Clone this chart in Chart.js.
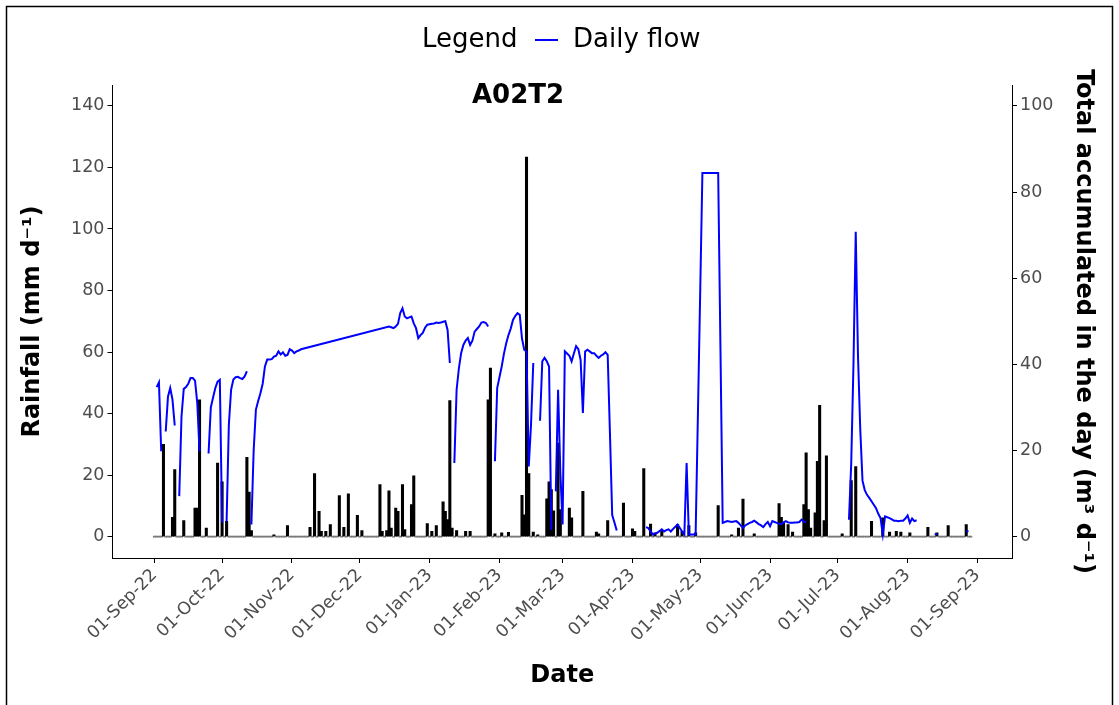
<!DOCTYPE html>
<html><head><meta charset="utf-8">
<script src="https://cdn.jsdelivr.net/npm/chart.js@4.4.1/dist/chart.umd.min.js"></script>
<style>html,body{margin:0;padding:0;background:#fff}canvas{display:block}</style>
</head><body>
<canvas id="c" width="1119" height="705"></canvas>
<script>
// ---- axis ticks (days since 01-Sep-2022) ----
const tickDays = [0,30,61,91,122,153,181,212,242,273,303,334,365];
const tickLabels = ["01-Sep-22","01-Oct-22","01-Nov-22","01-Dec-22","01-Jan-23","01-Feb-23","01-Mar-23","01-Apr-23","01-May-23","01-Jun-23","01-Jul-23","01-Aug-23","01-Sep-23"];
const rainTicks = [0,20,40,60,80,100,120,140];
const flowTicks = [0,20,40,60,80,100];

// ---- daily rainfall (mm/d); days with no entry are 0 ----
const rainFirstDay = 0, rainLastDay = 362;
const rainDays = [4,8,9,13,18,19,20,23,28,30,32,41,42,43,53,59,69,71,73,74,76,78,82,84,86,90,92,100,101,103,104,105,107,108,110,111,114,115,121,123,125,128,129,130,131,132,134,138,140,148,149,151,154,157,163,164,165,166,168,170,174,175,176,177,179,180,184,185,190,196,197,201,208,212,213,217,220,222,225,232,234,237,240,250,256,259,261,266,277,278,279,281,283,288,289,290,291,293,294,295,297,298,305,309,311,318,323,326,329,331,335,343,347,352,360];
const rainValues = [30,6.3,21.8,5.2,9.3,9.3,44.5,2.8,23.9,17.8,5,25.8,14.5,2,0.6,3.6,3,20.5,8.2,1.7,1.7,3.9,13.3,3,13.9,6.9,2,16.9,1.7,2,14.9,2.8,9.3,8.2,16.9,2.3,10.4,19.8,4.2,1.7,3.6,11.3,8.2,5.5,44.2,2.8,2,1.7,1.7,44.5,54.8,0.9,1.2,1.4,13.4,7.1,123.4,20.5,1.5,0.6,12.3,17.8,15.3,8.4,30.4,8.8,9.3,6.1,14.7,1.5,0.9,5.2,10.9,2.5,1.7,22.1,4.1,1.2,2,3.9,1.7,3.6,1.2,10.1,0.6,2.8,12.2,0.9,10.7,6.3,4.4,3.9,1.5,10.4,27.2,8.8,2.8,7.7,24.5,42.7,5.2,26.3,0.9,18.2,22.8,5,6.1,1.5,1.7,1.5,1.2,3,1.2,3.6,3.9];

// ---- daily flow (m3/d); null = no record ----
const flowDays = [1,2,3,4,5,6,7,8,9,10,11,12,13,14,15,16,17,18,19,20,21,24,25,26,27,28,29,30,31,32,33,34,35,36,37,38,39,40,41,42,
43,44,45,46,47,48,49,50,51,52,53,54,55,56,57,58,59,60,61,62,63,64,65,104,105,106,107,108,109,110,111,112,113,114,115,116,117,118,119,120,121,122,123,124,125,126,127,128,129,130,131,132,
133,134,135,136,137,138,139,140,141,142,143,144,145,146,147,148,149,
151,152,153,154,155,156,157,158,159,160,161,162,163,164,165,166,167,168,169,
171,172,173,174,175,176,177,
178,179,180,181,182,183,184,185,186,187,188,189,190,191,192,193,194,195,196,197,198,199,200,201,202,203,204,205,206,
218,219,220,221,222,223,224,225,226,227,228,229,230,231,232,233,234,235,236,237,238,239,240,241,242,243,244,245,246,247,248,249,250,251,
252,253,254,255,256,257,258,259,260,261,262,263,264,265,266,267,268,269,270,271,272,273,274,275,276,277,278,279,280,281,282,283,284,285,286,287,288,289,290,
308,309,310,311,312,313,314,315,316,317,318,319,320,321,322,323,324,325,326,327,328,329,330,331,332,333,334,335,336,337,338,339,
346,347,348,360,361];
const flowValues = [34.7,35.8,19.8,null,24.4,32.5,34.5,31.8,25.8,null,9.4,27.9,34.3,34.7,35.5,36.8,36.8,36.2,31,19.8,null,19.3,30,32.3,34.5,36,36.4,3.2,null,3.5,26,34.1,36.5,37,37.1,36.8,36.6,37.2,38.4,null,
2.8,20,29.5,31.5,33.3,35.5,39.5,41.1,41.1,41.2,41.8,42,43,42.3,42.8,42,42.2,43.5,43.2,42.6,43,43.2,43.5,48.8,48.6,48.4,48.8,49.4,51.9,53,51.1,50.7,50.9,51.1,49.5,48.4,46.1,46.8,47.3,48.5,49.2,49.3,49.4,49.5,49.7,49.6,49.7,49.9,50,48,40.3,null,
17.1,34.1,39,42.6,44.5,45.5,46.1,44.5,45.5,47.6,48.2,48.8,49.7,49.8,49.6,48.8,null,
17.5,34.5,37,39.5,42.5,44.9,46.8,48.3,50.3,51.2,51.9,51.5,46,43.4,43,16.3,26,40.3,null,
26.9,40.7,41.5,40.7,39.5,1.6,null,
10.5,34.1,15,2.8,43,42.5,42,40.7,42.5,44.2,43.5,41,28.7,43,43.4,43,42.6,42.6,42,41.5,42,42.3,42.8,42.2,24,5,3.3,1.4,null,
2.2,2.0,1.2,0.5,0.7,0.9,1.3,1.7,1.2,1.5,1.7,1.2,1.8,2.3,2.8,2,1.2,0.5,17.1,0.5,0.5,0.5,0.5,28,56,84.4,84.4,84.4,84.4,84.4,84.4,84.4,84.4,44,
3.2,3.4,3.6,3.5,3.4,3.5,3.6,3.2,2.6,2.0,2.6,2.9,3.2,3.4,3.7,3.3,2.9,2.6,2.2,2.9,3.4,2.4,3.6,3.4,3.2,3.0,2.9,3.3,3.6,3.3,3.2,3.2,3.3,3.3,3.4,3.95,3.5,3.3,null,
3.9,17,40,70.8,42,25,13,10.8,9.7,9,8.2,7.4,6.6,5.3,4.3,0.5,4.7,4.5,4.3,4.0,3.7,3.7,3.6,3.7,3.7,4.2,4.9,3.2,4.2,3.6,3.8,null,
0.5,0.6,null,1.2,1.3];

// ---- build library data ----
const rainMap = {};
rainDays.forEach((d, i) => { rainMap[d] = rainValues[i]; });
const rainData = [];
for (let d = rainFirstDay; d <= rainLastDay; d++) rainData.push({x: d, y: rainMap[d] !== undefined ? rainMap[d] : 0});
const flowData = flowDays.map((d, i) => ({x: d, y: flowValues[i]}));

const FONT = '"DejaVu Sans", "Liberation Sans", sans-serif';
Chart.defaults.font.family = FONT;

const decor = {
  id: 'decor',
  afterDraw(chart) {
    const c = chart.ctx;
    c.save();
    // outer frame
    c.strokeStyle = '#000'; c.lineWidth = 1.5;
    c.beginPath();
    c.moveTo(6.5, 706); c.lineTo(6.5, 6.5); c.lineTo(1112.5, 6.5); c.lineTo(1112.5, 706);
    c.stroke();
    // legend
    c.fillStyle = '#000';
    c.textBaseline = 'middle';
    c.textAlign = 'left';
    c.font = '26px ' + FONT;
    c.fillText('Legend', 422, 40);
    c.strokeStyle = '#0000ff'; c.lineWidth = 2;
    c.beginPath(); c.moveTo(535, 40); c.lineTo(558, 40); c.stroke();
    c.fillText('Daily flow', 573, 40);
    // panel title
    c.font = 'bold 26px ' + FONT;
    c.textAlign = 'center';
    c.fillText('A02T2', 518, 96);
    c.restore();
  }
};

const tickFont = {size: 17.5};
const tickColor = '#4d4d4d';

new Chart(document.getElementById('c'), {
  type: 'bar',
  data: {
    datasets: [
      {type: 'line', label: 'Daily flow', data: flowData, xAxisID: 'x', yAxisID: 'y2',
       borderColor: '#0000ff', borderWidth: 2, pointRadius: 0, spanGaps: false, tension: 0, order: 1},
      {type: 'bar', label: 'Rainfall', data: rainData, xAxisID: 'x', yAxisID: 'y',
       backgroundColor: (ctx) => (ctx.raw && ctx.raw.y === 0) ? '#7a7a7a' : '#000',
       borderWidth: 0, barThickness: 2.4, minBarLength: 1, order: 2}
    ]
  },
  options: {
    responsive: false, animation: false, events: [],
    layout: {padding: {top: 85, left: 0, right: 0, bottom: 0}},
    plugins: {legend: {display: false}, tooltip: {enabled: false}, title: {display: false}},
    scales: {
      x: {
        type: 'linear', position: 'bottom', min: -18.6, max: 380.3, offset: false,
        grid: {offset: false, drawOnChartArea: false, drawTicks: true, tickLength: 5, color: '#000'},
        border: {display: true, color: '#000', width: 1},
        ticks: {autoSkip: false, maxRotation: 45, minRotation: 45, padding: 2, font: tickFont, color: tickColor,
                callback: (v) => { const i = tickDays.indexOf(v); return i >= 0 ? tickLabels[i] : ''; }},
        afterBuildTicks: (s) => { s.ticks = tickDays.map(v => ({value: v})); },
        afterFit: (s) => { s.height = 147; },
        title: {display: true, text: 'Date', color: '#000', font: {size: 24, weight: 'bold'}, padding: {top: 0, bottom: 14.6}}
      },
      y: {
        type: 'linear', position: 'left', min: -6.95, max: 146.8,
        grid: {drawOnChartArea: false, drawTicks: true, tickLength: 5, color: '#000'},
        border: {display: true, color: '#000', width: 1},
        ticks: {padding: 3, font: tickFont, color: tickColor},
        afterBuildTicks: (s) => { s.ticks = rainTicks.map(v => ({value: v})); },
        afterFit: (s) => { s.width = 112.5; },
        title: {display: true, text: 'Rainfall (mm d⁻¹)', color: '#000', font: {size: 24, weight: 'bold'}, padding: {top: 18.6, bottom: 0}}
      },
      y2: {
        type: 'linear', position: 'right', min: -6.95 / 1.4, max: 146.8 / 1.4,
        grid: {drawOnChartArea: false, drawTicks: true, tickLength: 5, color: '#000'},
        border: {display: true, color: '#000', width: 1},
        ticks: {padding: 3, font: tickFont, color: tickColor},
        afterBuildTicks: (s) => { s.ticks = flowTicks.map(v => ({value: v})); },
        afterFit: (s) => { s.width = 107; },
        title: {display: true, text: 'Total accumulated in the day (m³ d⁻¹)', color: '#000', font: {size: 24, weight: 'bold'}, padding: {top: 21, bottom: 0}}
      }
    }
  },
  plugins: [decor]
});
</script>
</body></html>
